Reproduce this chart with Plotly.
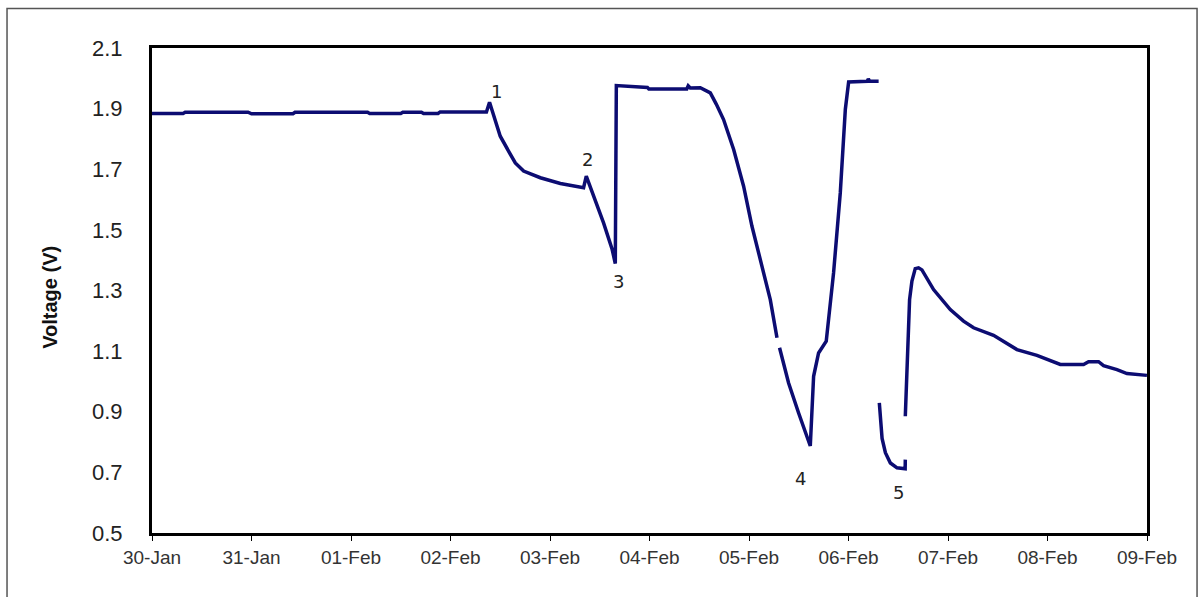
import plotly.graph_objects as go

# Cell voltage record, 30 Jan - 09 Feb (None marks breaks in the logged trace)
times = [
    "2011-01-30 00:00", "2011-01-30 07:30", "2011-01-30 08:00", "2011-01-30 23:10",
    "2011-01-31 00:00", "2011-01-31 10:00", "2011-01-31 10:30", "2011-02-01 04:00",
    "2011-02-01 04:30", "2011-02-01 12:00", "2011-02-01 12:30", "2011-02-01 17:00",
    "2011-02-01 17:30", "2011-02-01 21:00", "2011-02-01 21:30", "2011-02-02 08:40",
    "2011-02-02 09:25", "2011-02-02 09:55", "2011-02-02 10:50", "2011-02-02 12:00",
    "2011-02-02 14:00", "2011-02-02 15:38", "2011-02-02 17:38", "2011-02-02 21:40",
    "2011-02-03 02:30", "2011-02-03 08:06", "2011-02-03 08:45", "2011-02-03 10:30",
    "2011-02-03 12:55", "2011-02-03 15:00", "2011-02-03 15:45", "2011-02-03 16:00",
    "2011-02-03 23:30", "2011-02-03 23:50", "2011-02-04 09:00", "2011-02-04 09:20",
    "2011-02-04 09:50", "2011-02-04 12:15", "2011-02-04 14:40", "2011-02-04 16:06",
    "2011-02-04 17:52", "2011-02-04 20:18", "2011-02-04 22:42", "2011-02-05 00:43",
    "2011-02-05 03:08", "2011-02-05 05:08", "2011-02-05 06:45", None,
    "2011-02-05 07:22", "2011-02-05 09:33", "2011-02-05 11:58", "2011-02-05 14:47",
    "2011-02-05 15:35", "2011-02-05 16:47", "2011-02-05 18:38", "2011-02-05 20:24",
    "2011-02-05 22:01", "2011-02-05 23:14", "2011-02-06 00:02", "2011-02-06 04:30",
    "2011-02-06 04:47", "2011-02-06 05:05", "2011-02-06 07:16", None,
    "2011-02-06 07:26", "2011-02-06 08:06", "2011-02-06 08:54", "2011-02-06 10:06",
    "2011-02-06 11:42", "2011-02-06 13:18", "2011-02-06 13:40", "2011-02-06 13:42",
    None,
    "2011-02-06 13:42", "2011-02-06 14:15", "2011-02-06 14:44", "2011-02-06 15:18",
    "2011-02-06 16:06", "2011-02-06 16:54", "2011-02-06 17:43", "2011-02-06 20:31",
    "2011-02-07 00:33", "2011-02-07 03:45", "2011-02-07 06:10", "2011-02-07 10:59",
    "2011-02-07 14:13", "2011-02-07 16:38", "2011-02-07 21:27", "2011-02-08 03:05",
    "2011-02-08 08:42", "2011-02-08 09:54", "2011-02-08 12:19", "2011-02-08 13:31",
    "2011-02-08 16:45", "2011-02-08 19:10", "2011-02-08 23:59",
]
voltage = [
    1.884, 1.884, 1.888, 1.888,
    1.883, 1.883, 1.888, 1.888,
    1.884, 1.884, 1.888, 1.888,
    1.884, 1.884, 1.889, 1.889,
    1.921, 1.900, 1.864, 1.809,
    1.760, 1.721, 1.694, 1.672,
    1.653, 1.639, 1.677, 1.611,
    1.523, 1.435, 1.389, 1.976,
    1.970, 1.965, 1.965, 1.975,
    1.968, 1.969, 1.952, 1.915,
    1.864, 1.765, 1.644, 1.512,
    1.380, 1.270, 1.144, None,
    1.111, 0.995, 0.896, 0.787,
    1.017, 1.094, 1.133, 1.358,
    1.622, 1.897, 1.988, 1.990,
    1.998, 1.990, 1.990, None,
    0.929, 0.812, 0.765, 0.731,
    0.715, 0.711, 0.712, 0.742,
    None,
    0.885, 1.105, 1.270, 1.331,
    1.372, 1.375, 1.368, 1.303,
    1.237, 1.199, 1.177, 1.152,
    1.127, 1.105, 1.086, 1.056,
    1.056, 1.065, 1.065, 1.052,
    1.039, 1.026, 1.020,
]

# Event markers 1-5 placed beside the trace
event_labels = ["1", "2", "3", "4", "5"]
event_times = ["2011-02-02 11:12", "2011-02-03 08:56", "2011-02-03 16:28",
               "2011-02-05 12:23", "2011-02-06 12:06"]
event_volts = [1.957, 1.732, 1.331, 0.679, 0.633]

x_range = ["2011-01-30", "2011-02-09"]
y_ticks = [0.5, 0.7, 0.9, 1.1, 1.3, 1.5, 1.7, 1.9, 2.1]

line_color = "#0c0c72"

fig = go.Figure()
fig.add_trace(go.Scatter(
    x=times, y=voltage, mode="lines",
    line=dict(color=line_color, width=3.5),
    connectgaps=False, hoverinfo="skip", showlegend=False,
))

for lab, t, v in zip(event_labels, event_times, event_volts):
    fig.add_annotation(
        x=t, y=v, text=lab, showarrow=False,
        font=dict(family="DejaVu Sans", size=18, color="#222222"),
        xanchor="center", yanchor="middle",
    )

# y-axis title
fig.add_annotation(
    xref="paper", yref="paper", x=-0.1025, y=0.485,
    text="<b>Voltage (V)</b>", showarrow=False, textangle=-90,
    font=dict(family="Liberation Sans, Arial", size=20, color="#111111"),
    xanchor="center", yanchor="middle",
)

# frame around the whole chart
fig.add_shape(
    type="rect", xref="paper", yref="paper",
    x0=-0.1457, x1=1.0503, y0=-0.14, y1=1.0815,
    line=dict(color="#555555", width=1.5), fillcolor="rgba(0,0,0,0)",
    layer="below",
)

fig.update_layout(
    width=1201, height=597,
    margin=dict(l=152, r=54, t=48, b=64),
    paper_bgcolor="white", plot_bgcolor="white",
    font=dict(family="Liberation Sans, Arial", color="#222222"),
)
fig.update_xaxes(
    type="date", range=x_range, dtick=86400000, tickformat="%d-%b",
    showgrid=False, zeroline=False,
    showline=True, linecolor="black", linewidth=3, mirror=True,
    ticks="outside", ticklen=5, tickwidth=1, tickcolor="black",
    tickfont=dict(family="Liberation Sans, Arial", size=19, color="#333333"),
)
fig.update_yaxes(
    range=[0.5, 2.1], tickvals=y_ticks, tickformat=".1f",
    showgrid=False, zeroline=False,
    showline=True, linecolor="black", linewidth=3, mirror=True,
    ticks="", ticklabelstandoff=22,
    tickfont=dict(family="Liberation Sans, Arial", size=22, color="#222222"),
)

fig.write_html("out.html")
